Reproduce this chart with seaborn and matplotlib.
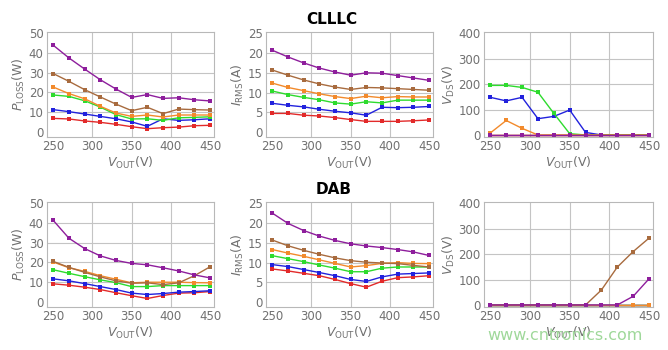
import numpy as np
import pandas as pd
import matplotlib
matplotlib.use('Agg')
import matplotlib.pyplot as plt
import seaborn as sns

sns.set_style('white')
plt.rcParams['font.family'] = ['DejaVu Sans']
plt.rcParams['mathtext.fontset'] = 'dejavusans'

vout = [250, 270, 290, 310, 330, 350, 370, 390, 410, 430, 450]
series = ['red', 'blue', 'green', 'orange', 'brown', 'purple']
colors = ['#e22a2a', '#2222dd', '#2edb2e', '#f28a2c', '#a86b3e', '#8e1e9c']

# CLLLC
clllc_ploss = {
    'red':    [6.9, 6.6, 5.6, 4.9, 3.9, 2.7, 1.7, 2.2, 2.5, 3.2, 3.4],
    'blue':   [11.3, 10.3, 9.1, 7.9, 6.7, 5.1, 2.9, 6.7, 5.9, 6.2, 6.7],
    'green':  [18.7, 18.0, 15.8, 12.6, 8.8, 6.6, 6.7, 5.9, 7.2, 7.4, 7.7],
    'orange': [22.7, 19.4, 16.8, 13.0, 9.6, 7.9, 8.6, 7.6, 8.6, 8.6, 8.6],
    'brown':  [29.5, 25.6, 21.4, 17.7, 14.1, 10.8, 12.5, 9.3, 11.6, 11.3, 11.1],
    'purple': [43.8, 37.4, 31.8, 26.4, 21.7, 17.5, 18.9, 17.0, 17.3, 16.3, 15.7],
}
clllc_irms = {
    'red':    [4.75, 4.75, 4.3, 4.1, 3.7, 3.2, 2.75, 2.75, 2.75, 2.9, 3.1],
    'blue':   [7.3, 6.8, 6.4, 5.8, 5.3, 4.9, 4.3, 6.3, 6.2, 6.3, 6.5],
    'green':  [10.4, 9.5, 8.8, 8.2, 7.4, 7.1, 7.7, 7.4, 8.1, 8.1, 8.1],
    'orange': [12.4, 11.3, 10.5, 9.7, 9.0, 8.5, 9.1, 8.7, 9.0, 8.9, 8.9],
    'brown':  [15.7, 14.4, 13.2, 12.2, 11.4, 10.8, 11.3, 11.2, 11.0, 10.8, 10.6],
    'purple': [20.7, 19.0, 17.5, 16.2, 15.2, 14.4, 15.0, 14.9, 14.3, 13.7, 13.1],
}
clllc_vds = {
    'red':    [0, 0, 0, 0, 0, 0, 0, 0, 0, 0, 0],
    'blue':   [148, 134, 148, 64, 73, 98, 10, 0, 0, 0, 0],
    'green':  [195, 195, 187, 168, 85, 5, 0, 0, 0, 0, 0],
    'orange': [8, 57, 26, 0, 0, 0, 0, 0, 0, 0, 0],
    'brown':  [0, 0, 0, 0, 0, 0, 0, 0, 0, 0, 0],
    'purple': [0, 0, 0, 0, 0, 0, 0, 0, 0, 0, 0],
}

# DAB
dab_ploss = {
    'red':    [9.2, 8.5, 7.5, 6.3, 4.7, 3.2, 1.8, 3.3, 4.5, 4.7, 5.3],
    'blue':   [11.7, 10.7, 9.3, 7.8, 6.3, 4.5, 3.8, 4.3, 5.0, 5.3, 5.7],
    'green':  [16.3, 14.5, 12.8, 11.2, 9.8, 7.8, 7.8, 8.3, 8.3, 8.3, 8.3],
    'orange': [20.2, 17.3, 15.5, 13.3, 11.5, 9.7, 10.0, 10.0, 10.0, 9.8, 9.7],
    'brown':  [20.5, 17.5, 15.0, 12.7, 10.7, 9.5, 9.7, 8.8, 9.7, 13.3, 17.8],
    'purple': [41.2, 32.2, 27.0, 23.3, 21.0, 19.5, 18.8, 17.3, 15.7, 13.7, 12.2],
}
dab_irms = {
    'red':    [8.4, 7.9, 7.3, 6.7, 5.75, 4.7, 3.8, 5.3, 6.2, 6.4, 6.7],
    'blue':   [9.5, 9.0, 8.25, 7.5, 6.7, 5.75, 5.25, 6.4, 7.1, 7.25, 7.4],
    'green':  [11.75, 11.0, 10.25, 9.4, 8.6, 7.7, 7.7, 8.6, 8.9, 8.9, 8.9],
    'orange': [13.3, 12.4, 11.6, 10.7, 9.8, 8.9, 9.25, 9.8, 10.0, 9.8, 9.75],
    'brown':  [15.7, 14.25, 13.1, 12.1, 11.2, 10.5, 10.1, 9.9, 9.75, 9.3, 8.9],
    'purple': [22.5, 19.9, 18.1, 16.7, 15.6, 14.75, 14.2, 13.8, 13.3, 12.7, 11.8],
}
dab_vds = {
    'red':    [0, 0, 0, 0, 0, 0, 0, 0, 0, 0, 0],
    'blue':   [0, 0, 0, 0, 0, 0, 0, 0, 0, 0, 0],
    'green':  [0, 0, 0, 0, 0, 0, 0, 0, 0, 0, 0],
    'orange': [0, 0, 0, 0, 0, 0, 0, 0, 0, 0, 0],
    'brown':  [0, 0, 0, 0, 0, 0, 0, 59, 149, 210, 263],
    'purple': [0, 0, 0, 0, 0, 0, 0, 0, 0, 34, 103],
}

xticks = [250, 300, 350, 400, 450]
ylabels = [r'$P_{\mathrm{LOSS}}$(W)', r'$I_{\mathrm{RMS}}$(A)', r'$V_{\mathrm{DS}}$(V)']
xlabel = r'$V_{\mathrm{OUT}}$(V)'
yticks = [[0, 10, 20, 30, 40, 50], [0, 5, 10, 15, 20, 25], [0, 100, 200, 300, 400]]
ylims = [(-2.5, 50.5), (-1.2, 25.3), (-8, 405)]

fig = plt.figure(figsize=(6.68, 3.5), dpi=100)

lefts = [47 / 668, 266 / 668, 484 / 668]
widths = [167 / 668, 167 / 668, 169 / 668]
bottoms = [1 - 137 / 350, 1 - 307 / 350]
h = 105 / 350

grey = '#707070'


def long_df(d):
    rows = []
    for s in series:
        for x, v in zip(vout, d[s]):
            rows.append((x, v, s))
    return pd.DataFrame(rows, columns=['vout', 'val', 'series'])


panels = [[clllc_ploss, clllc_irms, clllc_vds], [dab_ploss, dab_irms, dab_vds]]

for r in range(2):
    for c in range(3):
        ax = fig.add_axes([lefts[c], bottoms[r], widths[c], h])
        df = long_df(panels[r][c])
        sns.lineplot(data=df, x='vout', y='val', hue='series', hue_order=series,
                     palette=colors, marker='s', markersize=2.6, markeredgewidth=0,
                     linewidth=1.0, legend=False, ax=ax, estimator=None, sort=False)
        ax.set_xlim(242, 455)
        ax.set_ylim(*ylims[c])
        ax.set_xticks(xticks)
        ax.set_yticks(yticks[c])
        ax.grid(True, color='#c4c4c4', linewidth=0.8)
        ax.set_axisbelow(True)
        gl = ax.xaxis.get_gridlines()
        gl[0].set_visible(False)
        gl[-1].set_visible(False)
        gy = ax.yaxis.get_gridlines()
        gy[0].set_visible(False)
        gy[-1].set_visible(False)
        for sp in ax.spines.values():
            sp.set_color('#b8b8b8')
            sp.set_linewidth(0.8)
        ax.tick_params(labelsize=8.5, colors=grey, length=2, direction='in', pad=2.5,
                       color='#b0b0b0')
        ax.set_xlabel(xlabel, fontsize=9, color=grey, labelpad=1)
        ax.set_ylabel(ylabels[c], fontsize=9, color=grey, labelpad=1)

fig.text(0.497, 1 - 20 / 350, 'CLLLC', ha='center', va='center', fontsize=11,
         fontweight='bold', color='black')
fig.text(0.5, 1 - 190 / 350, 'DAB', ha='center', va='center', fontsize=11,
         fontweight='bold', color='black')
fig.text(565 / 668, 1 - 335 / 350, 'www.cntronics.com', ha='center', va='center',
         fontsize=11.5, color='#9fd89a')

fig.savefig('out.png', dpi=100)
